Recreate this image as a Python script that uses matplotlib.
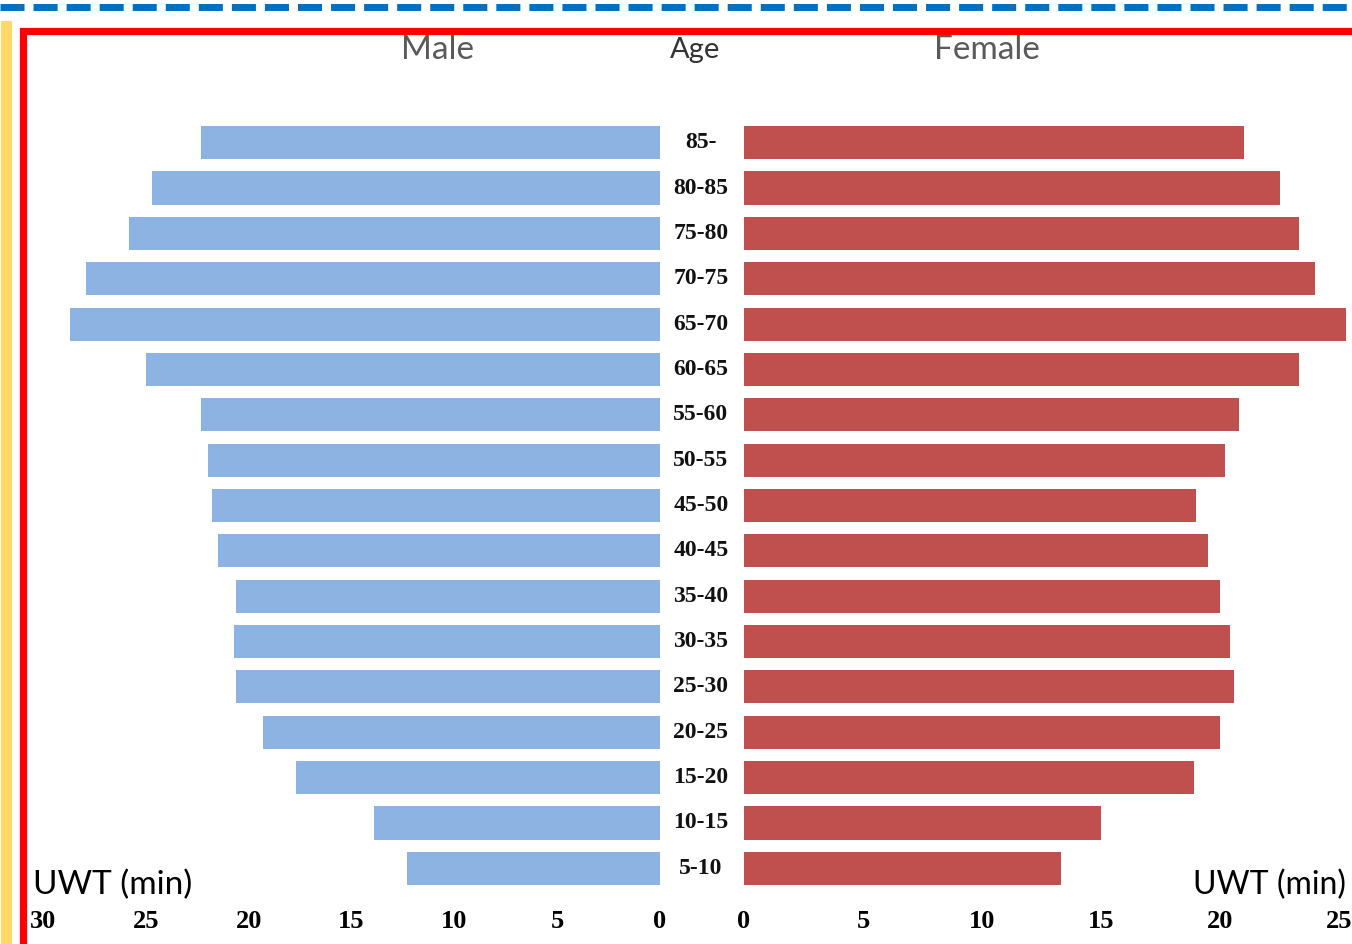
import numpy as np
import matplotlib.pyplot as plt
import matplotlib.transforms as mtransforms
from matplotlib.lines import Line2D

# age groups, oldest first (top of the pyramid)
ages = ['85-', '80-85', '75-80', '70-75', '65-70', '60-65', '55-60', '50-55',
        '45-50', '40-45', '35-40', '30-35', '25-30', '20-25', '15-20', '10-15', '5-10']
male = [22.3, 24.7, 25.8, 27.9, 28.7, 25.0, 22.3, 22.0,
        21.8, 21.5, 20.6, 20.7, 20.6, 19.3, 17.7, 13.9, 12.3]
female = [21.0, 22.5, 23.3, 24.0, 25.3, 23.3, 20.8, 20.2,
          19.0, 19.5, 20.0, 20.4, 20.6, 20.0, 18.9, 15.0, 13.3]
male_ticks = [30, 25, 20, 15, 10, 5, 0]
female_ticks = [0, 5, 10, 15, 20, 25]

W, H = 1352, 944
fig = plt.figure(figsize=(W / 100, H / 100), dpi=100)

y = np.arange(len(ages))[::-1]
bottom = 1 - 891 / H
height = (891 - 120) / H

ax_m = fig.add_axes([43 / W, bottom, (660 - 43) / W, height])
ax_f = fig.add_axes([744 / W, bottom, (W - 744) / W, height])

ax_m.barh(y, male, height=0.73, color='#8DB3E2')
ax_f.barh(y, female, height=0.73, color='#C0504D')

ax_m.set_xlim(30, 0)
ax_f.set_xlim(0, (W - 744) / 23.8)
tick_font = dict(family='Liberation Serif', weight='bold', size=19)
for ax, ticks in ((ax_m, male_ticks), (ax_f, female_ticks)):
    ax.set_ylim(-0.5, len(ages) - 0.5)
    ax.set_yticks([])
    ax.set_xticks(ticks)
    ax.set_xticklabels([str(t) for t in ticks], fontdict=tick_font)
    ax.tick_params(axis='x', length=0, pad=14)
    for s in ax.spines.values():
        s.set_visible(False)

# age labels between the two halves
trans = mtransforms.blended_transform_factory(fig.transFigure, ax_m.transData)
for yi, lab in zip(y, ages):
    fig.text(701 / W, yi, lab, transform=trans, ha='center', va='center',
             family='Liberation Serif', weight='bold', size=17, color='#111111')

head_y = 1 - 50 / H
fig.text(437 / W, head_y, 'Male', ha='center', va='center', family='Lato',
         size=24, color='#5a5a5a')
fig.text(695 / W, head_y, 'Age', ha='center', va='center', family='Lato',
         size=21, color='#333333')
fig.text(987 / W, head_y, 'Female', ha='center', va='center', family='Lato',
         size=24, color='#5a5a5a')

fig.text(33 / W, 1 - 885 / H, 'UWT (min)', ha='left', va='center',
         family='Lato', size=24, color='black')
fig.text(1346 / W, 1 - 885 / H, 'UWT (min)', ha='right', va='center',
         family='Lato', size=23, color='black')

# frame decorations
fig.add_artist(Line2D([0, 1], [1 - 6.5 / H] * 2, color='#0070C0', lw=5.0,
                      linestyle=(0, (3.46, 1.3)), solid_capstyle='butt'))
fig.add_artist(Line2D([5.5 / W] * 2, [0, 1 - 26 / H], color='#FFD966', lw=8.0))
fig.add_artist(Line2D([22.5 / W, 22.5 / W, 1], [0, 1 - 30.5 / H, 1 - 30.5 / H],
                      color='#FF0000', lw=5.2, solid_joinstyle='miter'))

fig.savefig('out.png', dpi=100)
